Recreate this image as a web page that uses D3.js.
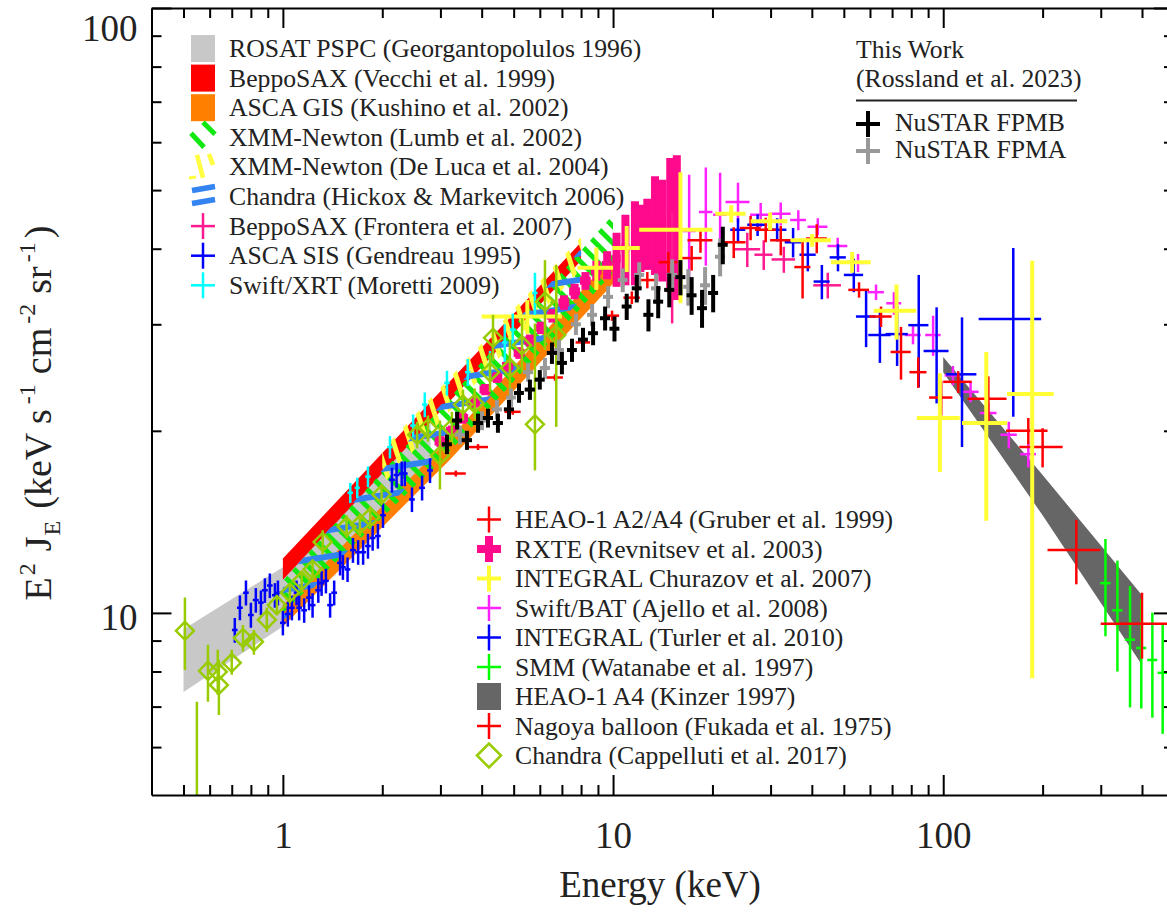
<!DOCTYPE html>
<html><head><meta charset="utf-8">
<script src="https://cdn.jsdelivr.net/npm/d3@7/dist/d3.min.js"></script>
<style>
body{margin:0;background:#fff}
text{font-family:"Liberation Serif","Times New Roman",serif;fill:#222}
</style></head>
<body><svg id="c" width="1167" height="922"></svg>
<script>
// ---------------- DATA (E in keV, values in keV s^-1 cm^-2 sr^-1) ----------------
const xTickMajor = [1, 10, 100];
const xTickMinor = [0.5,0.6,0.7,0.8,0.9,2,3,4,5,6,7,8,9,20,30,40,50,60,70,80,90,200,300,400];
const yTickMajor = [10, 100];
const yTickMinor = [6,7,8,9,20,30,40,50,60,70,80,90];

// bands
const rosatE = [0.5, 1.0, 1.5, 2.0, 2.8];
const rosatLo = [7.4, 9.5, 11.9, 13.9, 17.0];
const rosatHi = [9.4, 11.9, 14.6, 17.0, 20.8];
const vecchiE = [1, 8];
const vecchiLo = [11.35, 38.2];
const vecchiHi = [12.3, 41];
const kushinoE = [1, 3.2, 10];
const kushinoLo = [9.5, 17.9, 35];
const kushinoHi = [10.3, 19.4, 39];
const lumbE = [1, 3, 10];
const lumbLo = [10.0, 17.8, 36.5];
const lumbHi = [11.3, 21.8, 45.5];
const delucaE = [2, 8];
const delucaLo = [16.3, 37.0];
const delucaHi = [18.6, 41.8];
const hickoxE = [1, 8];
const hickoxLo = [9.7, 33.0];
const hickoxHi = [11.3, 40.0];
const kinzerE = [100, 200, 400];
const kinzerLo = [25.0, 14.5, 8.2];
const kinzerHi = [26.5, 16.9, 10.7];

// RXTE (Revnitsev 2003)
const rxteE = [3.0,3.25,3.5,3.8,4.1,4.45,4.8,5.2,5.6,6.05,6.55,7.1,7.65,8.25,8.9,9.6,10.25,10.9,11.65,12.1,12.7,13.4,14.1,14.9,15.6];
const rxteV = [19.2,20.0,21.0,22.3,23.4,24.5,25.6,26.9,28.2,29.6,31.0,32.6,34.0,35.4,36.8,37.6,38.55,40.15,41.35,41.95,42.65,44.45,43.65,45.2,45.0];
const rxteDE = [0.12,0.13,0.14,0.15,0.16,0.17,0.19,0.2,0.22,0.23,0.25,0.27,0.29,0.31,0.33,0.35,0.3,0.3,0.3,0.3,0.3,0.3,0.3,0.3,0.3];
const rxteDV = [0.4,0.4,0.45,0.45,0.5,0.5,0.55,0.6,0.65,0.7,0.8,0.9,1.0,1.2,1.4,2.0,3.95,5.35,6.55,5.35,5.75,8.25,8.35,11.3,12.1];

// BeppoSAX (Frontera 2007)
const fronteraE = [15.1, 25.5, 28.6, 32.9, 44.7];
const fronteraV = [38.0, 39.9, 39.1, 38.4, 34.8];
const fronteraDE = [0.6, 2.4, 1.8, 2.7, 4.3];
const fronteraDV = [7.9, 2.6, 2.2, 1.9, 1.7];

// Swift/BAT (Ajello 2008)
const batE = [17.0,19.1,21.1,23.9,28.0,32.2,36.4,41.7,47.9,55.2,62.6,70.9,81.0,93.2,107,121,137,158,181];
const batV = [42.8,46.0,45.5,47.8,45.5,45.7,44.6,43.5,40.4,37.9,33.9,32.5,28.8,28.8,24.7,23.2,21.4,19.7,18.3];
const batDE = [0.8,0.9,1.0,2.0,2.0,2.3,2.0,2.9,3.3,3.1,3.5,3.7,4.5,5,6,7,8,9,10];
const batDV = [10.2,8.5,7.9,3.6,2.1,2.0,1.7,1.4,1.3,1.3,1.0,1.4,1.0,2.2,0.9,0.9,0.85,1.0,0.9];

// INTEGRAL (Turler 2010)
const turlerE = [23.9,27.4,31.4,35.1,38.9,42.9,48.0,53.6,58.4,64.3,72.5,84.3,95.5,114,163];
const turlerV = [43.0,43.8,43.0,41.0,39.1,35.3,38.7,36.2,30.9,28.8,28.9,29.9,27.1,24.8,30.6];
const turlerDE = [1.25,1.9,2.1,2.0,2.2,2.4,2.7,3.6,4.0,5.0,5.6,5.9,8.3,12,35];
const turlerDV = [1.9,1.8,1.9,2.3,2.4,2.3,2.0,2.3,3.4,2.9,3.3,6.3,4.9,6.0,9.5];

// HEAO-1 A2/A4 (Gruber 1999)
const gruberE = [3.34,3.90,4.97,6.67,8.11,9.93,11.4,12.7,14.7,17.3,18.4,23.2,26.1,29.0,32.2,37.5,41.4,55.6,64.8,74.5,84.0,98.6,111,137,181,200];
const gruberV = [17.0,18.8,21.5,24.5,28.0,31.0,33.2,35.5,38.0,38.6,41.3,41.0,43.3,43.0,41.3,37.3,41.6,34.2,30.9,27.0,25.0,22.7,24.1,22.6,20.0,18.8];
const gruberDE = [0.24,0.28,0.28,0.38,0.41,0.5,0.65,0.72,0.96,1.25,1.6,2.0,1.9,2.1,2.3,2.1,3.0,4.0,5.0,5.2,5.0,8.0,11,18.5,26,30];
const gruberDV = [0.19,0.21,0.24,0.3,0.4,0.6,0.8,1.1,1.5,1.8,1.9,2.4,2.0,2.0,2.3,4.2,2.3,1.0,1.2,2.7,1.45,1.5,1.0,2.0,1.0,1.4];

// INTEGRAL (Churazov 2007)
const churazovE = [5.5,8.9,11.0,16.0,22.8,29.9,40.1,53.0,72.2,97.7,135,186];
const churazovV = [30.9,37.2,40.1,43.0,45.7,44.4,41.3,38.0,31.6,21.0,20.6,23.0];
const churazovDE = [1.5,1.1,1.05,4.0,2.4,3.8,5.6,7.3,10.6,14.5,21,30];
const churazovDV = [2.0,3.0,3.5,10.5,1.5,1.5,1.0,1.5,3.3,3.9,6.4,15.2];

// ASCA SIS (Gendreau 1995)
const sisE = [0.715,0.741,0.773,0.800,0.828,0.858,0.882,0.913,0.946,0.966,1.0,1.035,1.065,1.10,1.12,1.16,1.20,1.23,1.28,1.31,1.35,1.39,1.43,1.49,1.52,1.57,1.63,1.69,1.75,1.81,1.87,1.94,2.01,2.14,2.21,2.29,2.34,2.46,2.64,2.79];
const sisV = [9.37,10.2,10.8,9.92,10.5,10.4,10.9,11.1,10.7,10.8,9.63,9.96,10.2,10.8,10.2,10.1,10.6,10.3,10.9,11.2,11.3,10.3,10.8,12.1,11.9,11.8,12.7,12.6,12.6,12.9,13.3,13.4,14.5,16.6,16.9,17.0,17.0,15.4,16.1,17.2];
const sisDE = [0.014,0.015,0.015,0.016,0.017,0.017,0.018,0.018,0.019,0.019,0.02,0.021,0.021,0.022,0.022,0.023,0.024,0.025,0.026,0.026,0.027,0.028,0.029,0.03,0.03,0.031,0.033,0.034,0.035,0.036,0.037,0.039,0.04,0.043,0.044,0.046,0.047,0.049,0.053,0.056];
const sisDV = [0.44,0.48,0.51,0.47,0.49,0.49,0.51,0.52,0.5,0.51,0.45,0.47,0.48,0.51,0.48,0.47,0.5,0.48,0.51,0.53,0.53,0.48,0.51,0.57,0.56,0.55,0.6,0.59,0.59,0.61,0.63,0.63,0.68,0.78,0.79,0.8,0.8,0.72,0.76,0.81];

// Swift/XRT (Moretti 2009)
const xrtE = [1.60,1.68,1.81,2.11,2.48,2.69,3.14,3.63,4.24,4.70,4.97,5.80];
const xrtV = [15.8,16.1,16.8,18.8,20.4,22.1,24.0,25.0,25.7,28.0,29.4,33.8];
const xrtDE = [0.03,0.03,0.035,0.04,0.05,0.05,0.06,0.07,0.08,0.09,0.1,0.11];
const xrtDV = [0.6,0.63,0.66,0.8,0.88,1.04,1.13,1.28,1.41,2.0,1.85,2.7];

// SMM (Watanabe 1997)
const smmE = [310,337,368,398,430,462];
const smmV = [11.2,10.1,9.03,8.75,8.36,7.96];
const smmDE = [11,12,13,14,15,16];
const smmDV = [2.05,2.1,2.05,1.8,1.65,1.65];

// Nagoya balloon (Fukada 1975)
const nagoyaE = [253, 400];
const nagoyaV = [12.7, 9.6];
const nagoyaDE = [46, 100];
const nagoyaDV = [1.55, 1.2];

// Chandra (Cappelluti 2017)
const capE = [0.505,0.549,0.593,0.635,0.640,0.700,0.757,0.817,0.894,0.959,1.05,1.14,1.23,1.32,1.56,1.71,1.84,1.99,2.55,2.75,2.99,3.25,3.51,3.81,4.24,4.33,4.87,5.30,5.80,6.22,6.73];
const capV = [9.34,4.0,8.02,7.99,7.60,8.27,9.09,8.96,9.74,10.3,10.8,11.3,11.8,13.1,13.9,14.0,14.4,15.7,19.7,20.2,18.2,20.2,22.1,22.2,25.0,28.5,25.4,27.7,20.5,32.7,28.8];
const capLo = [8.05,1.0,7.13,7.32,6.78,7.90,8.63,8.53,9.30,9.92,10.4,10.8,11.3,12.5,13.3,13.4,13.8,15.1,18.7,19.2,16.0,19.0,20.8,20.9,23.2,26.1,22.8,25.0,17.2,27.2,20.3];
const capHi = [10.6,7.13,8.86,8.69,8.36,8.69,9.55,9.37,10.2,10.7,11.2,11.7,12.2,13.7,14.5,14.6,15.0,16.3,20.7,21.2,20.8,21.5,23.4,23.5,26.9,31.1,28.3,30.7,30.1,38.3,37.6];

// NuSTAR (this work)
const fpmbE = [3.14,3.37,3.61,3.90,4.18,4.48,4.84,5.19,5.60,6.00,6.53,7.00,7.51,8.11,8.70,9.46,10.1,11.0,11.8,12.8,13.7,14.8,16.0,17.3,18.6,20.1,21.5];
const fpmbV = [19.0,20.8,19.3,20.6,21.0,20.6,21.7,23.1,23.4,24.3,26.9,25.9,27.2,28.3,29.0,30.7,29.5,32.1,34.4,31.1,32.7,34.2,35.9,33.5,31.9,33.8,40.6];
const fpmbDE = [0.11,0.12,0.13,0.14,0.15,0.16,0.17,0.18,0.2,0.21,0.23,0.25,0.26,0.28,0.3,0.33,0.35,0.38,0.41,0.45,0.48,0.52,0.56,0.6,0.65,0.7,0.75];
const fpmbDV = [0.7,0.7,0.7,0.75,0.75,0.75,0.8,0.85,0.9,0.9,1.1,1.1,1.2,1.3,1.3,1.4,1.4,1.6,1.8,1.9,2.0,2.2,2.4,2.4,2.3,2.4,2.9];
const fpmaE = [3.44,4.01,4.45,4.91,5.53,6.22,6.86,7.72,8.64,9.66,10.7,12.0,13.5,15.1,16.9,19.0,21.1];
const fpmaV = [19.7,20.8,21.7,22.7,25.0,25.4,27.2,30.0,31.1,33.3,35.5,36.2,34.4,36.2,34.6,34.8,38.8];
const fpmaDE = [0.12,0.14,0.16,0.17,0.19,0.22,0.24,0.27,0.3,0.34,0.37,0.42,0.47,0.53,0.59,0.66,0.74];
const fpmaDV = [0.7,0.75,0.8,0.8,0.9,1.0,1.1,1.2,1.3,1.4,1.6,1.8,2.0,2.2,2.4,2.5,2.8];

const legendLeft = ["ROSAT PSPC (Georgantopolulos 1996)","BeppoSAX (Vecchi et al. 1999)","ASCA GIS (Kushino et al. 2002)","XMM-Newton (Lumb et al. 2002)","XMM-Newton (De Luca et al. 2004)","Chandra (Hickox & Markevitch 2006)","BeppoSAX (Frontera et al. 2007)","ASCA SIS (Gendreau 1995)","Swift/XRT (Moretti 2009)"];
const legendLower = ["HEAO-1 A2/A4 (Gruber et al. 1999)","RXTE (Revnitsev et al. 2003)","INTEGRAL Churazov et al. 2007)","Swift/BAT (Ajello et al. 2008)","INTEGRAL (Turler et al. 2010)","SMM (Watanabe et al. 1997)","HEAO-1 A4 (Kinzer 1997)","Nagoya balloon (Fukada et al. 1975)","Chandra (Cappelluti et al. 2017)"];
const legendWork = ["This Work","(Rossland et al. 2023)","NuSTAR FPMB","NuSTAR FPMA"];

// ---------------- DRAWING ----------------
const X0 = 151.5, X1 = 1174, Y0 = 8, Y1 = 795;
const x = d3.scaleLog().domain([0.4, 500]).range([X0, X1]);
const y = d3.scaleLog().domain([5, 100]).range([Y1, Y0]);
const svg = d3.select("#c");
const defs = svg.append("defs");
defs.append("clipPath").attr("id","pc").append("rect")
  .attr("x",X0).attr("y",Y0).attr("width",X1-X0).attr("height",Y1-Y0);

function hatch(id, color, angle, spacing, thick){
  const p = defs.append("pattern").attr("id",id).attr("patternUnits","userSpaceOnUse")
    .attr("width",spacing).attr("height",spacing).attr("patternTransform",`rotate(${angle})`);
  p.append("rect").attr("x",0).attr("y",0).attr("width",spacing).attr("height",thick).attr("fill",color);
}
hatch("hG","#10e810",45,12,5);
hatch("hY","#ffff40",72,16,5);
hatch("hB","#3384f0",-9,26,6);

const plot = svg.append("g").attr("clip-path","url(#pc)");
const area = d3.area().x(d=>x(d.e)).y0(d=>y(d.lo)).y1(d=>y(d.hi));
function band(E, lo, hi, fill){
  plot.append("path").datum(E.map((e,i)=>({e:e, lo:lo[i], hi:hi[i]})))
    .attr("d", area).attr("fill", fill);
}
band(rosatE, rosatLo, rosatHi, "#c8c8c8");
band(vecchiE, vecchiLo, vecchiHi, "#ff0000");
band(kushinoE, kushinoLo, kushinoHi, "#ff8000");
band(lumbE, lumbLo, lumbHi, "url(#hG)");
band(delucaE, delucaLo, delucaHi, "url(#hY)");
band(hickoxE, hickoxLo, hickoxHi, "url(#hB)");
band(kinzerE, kinzerLo, kinzerHi, "#666666");

function crosses(E, V, dE, dV, color, sw){
  const g = plot.append("g").attr("stroke",color).attr("stroke-width",sw);
  E.forEach((e,i)=>{
    const v = V[i];
    g.append("line").attr("x1",x(Math.max(e-dE[i],1e-3))).attr("x2",x(e+dE[i]))
      .attr("y1",y(v)).attr("y2",y(v));
    g.append("line").attr("x1",x(e)).attr("x2",x(e))
      .attr("y1",y(Math.max(v-dV[i],1e-3))).attr("y2",y(v+dV[i]));
  });
}
crosses(rxteE, rxteV, rxteDE, rxteDV, "#ff0a8c", 8);
crosses(fronteraE, fronteraV, fronteraDE, fronteraDV, "#ff1a90", 2.5);
crosses(batE, batV, batDE, batDV, "#ff22ff", 2.5);
crosses(turlerE, turlerV, turlerDE, turlerDV, "#0000ff", 2.5);
crosses(gruberE, gruberV, gruberDE, gruberDV, "#ff0000", 2.5);
crosses(churazovE, churazovV, churazovDE, churazovDV, "#ffff33", 4);
crosses(sisE, sisV, sisDE, sisDV, "#0000ff", 2.5);
crosses(xrtE, xrtV, xrtDE, xrtDV, "#00ffff", 2.5);
crosses(smmE, smmV, smmDE, smmDV, "#00ff00", 2.5);
crosses(nagoyaE, nagoyaV, nagoyaDE, nagoyaDV, "#ff0000", 2.5);

// Cappelluti diamonds
const cg = plot.append("g").attr("stroke","#99cc00").attr("stroke-width",2.5).attr("fill","none");
capE.forEach((e,i)=>{
  cg.append("line").attr("x1",x(e)).attr("x2",x(e)).attr("y1",y(capLo[i])).attr("y2",y(capHi[i]));
  const cx=x(e), cy=y(capV[i]), s=9;
  cg.append("path").attr("d",`M${cx-s},${cy}L${cx},${cy-s}L${cx+s},${cy}L${cx},${cy+s}Z`);
});
crosses(fpmaE, fpmaV, fpmaDE, fpmaDV, "#999999", 4);
crosses(fpmbE, fpmbV, fpmbDE, fpmbDV, "#000000", 4);

// ---------------- AXES ----------------
function styleAxis(g){
  g.selectAll("path.domain").attr("stroke","#000").attr("stroke-width",2);
  g.selectAll(".tick line").attr("stroke","#000").attr("stroke-width",2);
  g.selectAll("text").attr("font-family",'"Liberation Serif","Times New Roman",serif').attr("font-size",37).attr("fill","#222");
}
const fmt = d3.format("d");
const gb = svg.append("g").attr("transform",`translate(0,${Y1})`)
  .call(d3.axisBottom(x).tickValues(xTickMajor).tickSizeInner(-20).tickSizeOuter(0).tickPadding(27).tickFormat(fmt));
styleAxis(gb);
const gbm = svg.append("g").attr("transform",`translate(0,${Y1})`)
  .call(d3.axisBottom(x).tickValues(xTickMinor).tickSizeInner(-10).tickSizeOuter(0).tickFormat(""));
styleAxis(gbm); gbm.select(".domain").remove();
const gt = svg.append("g").attr("transform",`translate(0,${Y0})`)
  .call(d3.axisTop(x).tickValues(xTickMajor).tickSizeInner(-20).tickSizeOuter(0).tickFormat(""));
styleAxis(gt);
const gtm = svg.append("g").attr("transform",`translate(0,${Y0})`)
  .call(d3.axisTop(x).tickValues(xTickMinor).tickSizeInner(-10).tickSizeOuter(0).tickFormat(""));
styleAxis(gtm); gtm.select(".domain").remove();
const gl = svg.append("g").attr("transform",`translate(${X0},0)`)
  .call(d3.axisLeft(y).tickValues(yTickMajor).tickSizeInner(-20).tickSizeOuter(0).tickPadding(14).tickFormat(fmt));
styleAxis(gl);
gl.selectAll("text").attr("dy","0.45em");
gl.selectAll(".tick").filter(d=>d===100).select("text").attr("dy","32px");
const glm = svg.append("g").attr("transform",`translate(${X0},0)`)
  .call(d3.axisLeft(y).tickValues(yTickMinor).tickSizeInner(-10).tickSizeOuter(0).tickFormat(""));
styleAxis(glm); glm.select(".domain").remove();
const gr = svg.append("g").attr("transform",`translate(${X1},0)`)
  .call(d3.axisRight(y).tickValues(yTickMajor).tickSizeInner(-20).tickSizeOuter(0).tickFormat(""));
styleAxis(gr);
const grm = svg.append("g").attr("transform",`translate(${X1},0)`)
  .call(d3.axisRight(y).tickValues(yTickMinor).tickSizeInner(-10).tickSizeOuter(0).tickFormat(""));
styleAxis(grm); grm.select(".domain").remove();

// axis titles
svg.append("text").attr("x",660).attr("y",897).attr("text-anchor","middle").attr("font-size",37).text("Energy (keV)");
const yt = svg.append("text").attr("transform","translate(51,413) rotate(-90)").attr("text-anchor","middle").attr("font-size",38);
// [text, dy, font-size, dx]
const parts = [["E",0,38,0],["2",-16,24,2],["J",16,38,12],["E",9,24,1],["(keV s",-9,38,12],["-1",-16,24,5],["cm",16,38,10],["-2",-16,24,4],["sr",16,38,10],["-1",-16,24,4],[")",16,38,4]];
parts.forEach(p=>yt.append("tspan").attr("dy",p[1]).attr("dx",p[3]).attr("font-size",p[2]).text(p[0]));

// ---------------- LEGENDS ----------------
const FS = 25.7;
function legCross(cx, cy, color, sw){
  svg.append("line").attr("x1",cx-12).attr("x2",cx+12).attr("y1",cy).attr("y2",cy).attr("stroke",color).attr("stroke-width",sw);
  svg.append("line").attr("x1",cx).attr("x2",cx).attr("y1",cy-13).attr("y2",cy+13).attr("stroke",color).attr("stroke-width",sw);
}
function legBox(cx, cy, color){
  svg.append("rect").attr("x",cx-12).attr("y",cy-13.5).attr("width",24).attr("height",27).attr("fill",color);
}
function seg(x1,y1,x2,y2,color,sw){
  svg.append("line").attr("x1",x1).attr("y1",y1).attr("x2",x2).attr("y2",y2).attr("stroke",color).attr("stroke-width",sw);
}
legendLeft.forEach((t,i)=>{
  const b = 57 + i*29.6, cy = b - 8.5, cx = 203;
  svg.append("text").attr("x",229).attr("y",b).attr("font-size",FS).text(t);
  if(i===0) legBox(cx,cy,"#c8c8c8");
  if(i===1) legBox(cx,cy,"#ff0000");
  if(i===2) legBox(cx,cy,"#ff8000");
  if(i===3){ seg(191,cy-4,204,cy+10,"#10e810",5); seg(203,cy-15,215,cy-3,"#10e810",5); }
  if(i===4){ seg(197,cy-12,203,cy+11,"#ffff40",4.5); seg(209,cy-13,213,cy-2,"#ffff40",4.5); seg(189,cy+11,196,cy+10,"#ffff40",3); }
  if(i===5){ seg(192,cy-6,215,cy-10,"#3384f0",5.5); seg(192,cy+7,215,cy+3,"#3384f0",5.5); }
  if(i===6) legCross(cx,cy,"#ff1a90",2.5);
  if(i===7) legCross(cx,cy,"#0000ff",2.5);
  if(i===8) legCross(cx,cy,"#00ffff",2.5);
});
legendLower.forEach((t,i)=>{
  const b = 528 + i*29.5, cy = b - 8.5, cx = 489;
  svg.append("text").attr("x",515).attr("y",b).attr("font-size",FS).text(t);
  if(i===0) legCross(cx,cy,"#ff0000",2.5);
  if(i===1) legCross(cx,cy,"#ff0a8c",8);
  if(i===2) legCross(cx,cy,"#ffff33",4);
  if(i===3) legCross(cx,cy,"#ff22ff",2.5);
  if(i===4) legCross(cx,cy,"#0000ff",2.5);
  if(i===5) legCross(cx,cy,"#00ff00",2.5);
  if(i===6) legBox(cx,cy,"#666666");
  if(i===7) legCross(cx,cy,"#ff0000",2.5);
  if(i===8) svg.append("path").attr("d",`M${cx-12},${cy}L${cx},${cy-12}L${cx+12},${cy}L${cx},${cy+12}Z`)
      .attr("fill","none").attr("stroke","#99cc00").attr("stroke-width",2.5);
});
svg.append("text").attr("x",856).attr("y",58).attr("font-size",FS).text(legendWork[0]);
svg.append("text").attr("x",856).attr("y",87).attr("font-size",FS).text(legendWork[1]);
seg(856,100.5,1077,100.5,"#222",2);
legCross(868,124,"#000000",4);
svg.append("text").attr("x",895).attr("y",131).attr("font-size",FS).text(legendWork[2]);
legCross(868,151,"#999999",4);
svg.append("text").attr("x",895).attr("y",158).attr("font-size",FS).text(legendWork[3]);
</script></body></html>
